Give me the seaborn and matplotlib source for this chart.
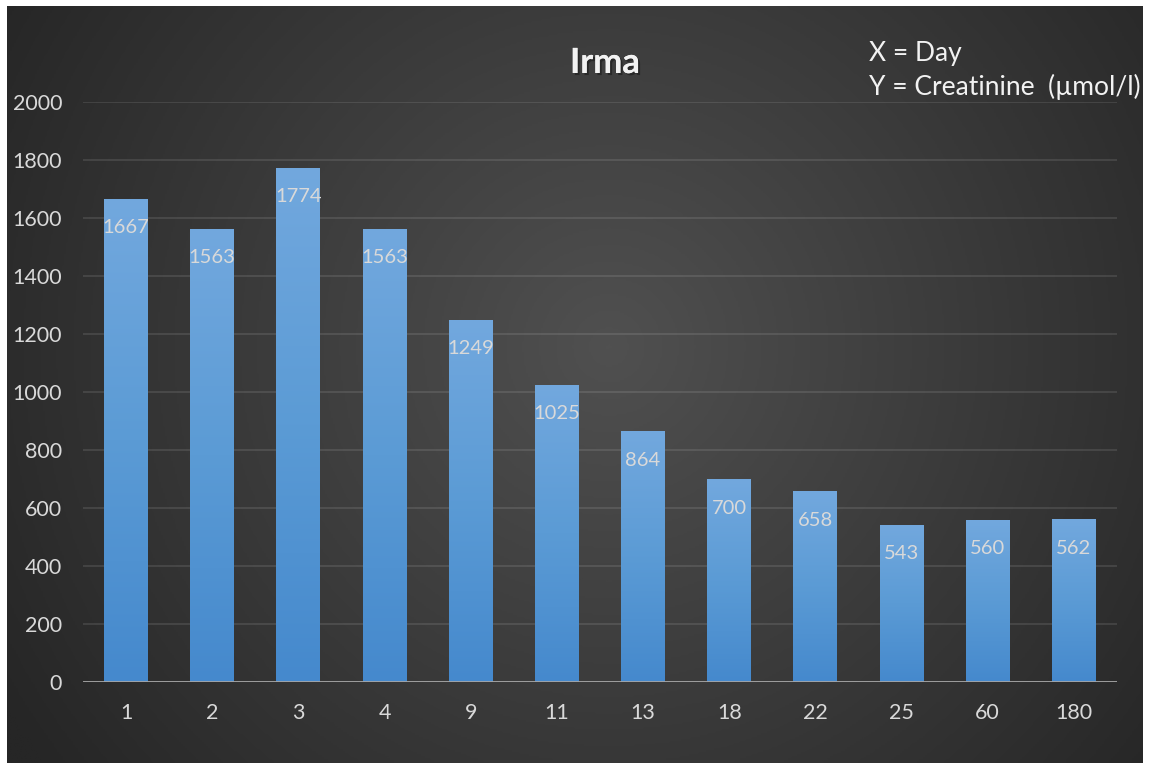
import numpy as np
import matplotlib
matplotlib.use("Agg")
import matplotlib.pyplot as plt
import matplotlib.patheffects as pe
import seaborn as sns
import pandas as pd
from matplotlib.colors import LinearSegmentedColormap

days = ["1", "2", "3", "4", "9", "11", "13", "18", "22", "25", "60", "180"]
creatinine = [1667, 1563, 1774, 1563, 1249, 1025, 864, 700, 658, 543, 560, 562]
y_ticks = [0, 200, 400, 600, 800, 1000, 1200, 1400, 1600, 1800, 2000]
title_text = "Irma"
note_text = "X = Day\nY = Creatinine  (µmol/l)"

sns.set_style("dark")
plt.rcParams["font.family"] = ["Lato", "DejaVu Sans"]

W, H = 1149, 769
fig = plt.figure(figsize=(W / 100, H / 100), dpi=100, facecolor="white")

# radial gradient background panel
bg = fig.add_axes([7 / W, 6 / H, 1136 / W, 757 / H], zorder=0)
yy, xx = np.mgrid[0:1:400j, 0:1:600j]
cx, cy = 0.53, 0.45
r = np.sqrt(((xx - cx)) ** 2 + ((yy - cy) * 0.67) ** 2)
r = np.clip(r / 0.62, 0, 1)
bg_cmap = LinearSegmentedColormap.from_list("bg", ["#505050", "#3b3b3b", "#262626"])
bg.imshow(r, cmap=bg_cmap, aspect="auto", extent=(0, 1, 0, 1), interpolation="bilinear")
bg.set_axis_off()

ax = fig.add_axes([83 / W, 1 - 682 / H, 1034 / W, 580 / H], zorder=1)
ax.patch.set_alpha(0)

df = pd.DataFrame({"day": days, "creatinine": creatinine})
sns.barplot(data=df, x="day", y="creatinine", order=days, color="#5b9bd5",
            saturation=1, width=0.51, ax=ax, errorbar=None, linewidth=0,
            edgecolor="none")

bar_cmap = LinearSegmentedColormap.from_list("bar", ["#4589cd", "#5b9bd5", "#72a8de"])
grad = np.linspace(0, 1, 256).reshape(-1, 1)
for p in ax.patches:
    x0, y0 = p.get_x(), p.get_y()
    w, h = p.get_width(), p.get_height()
    p.set_edgecolor("none")
    p.set_linewidth(0)
    im = ax.imshow(grad, cmap=bar_cmap, origin="lower", aspect="auto",
                   extent=(x0, x0 + w, y0, y0 + h), zorder=2)
    im.set_clip_path(p)

ax.set_xlim(-0.5, len(days) - 0.5)
ax.set_ylim(0, 2000)
ax.set_yticks(y_ticks)
ax.set_xlabel("")
ax.set_ylabel("")
for s in ax.spines.values():
    s.set_visible(False)
ax.yaxis.grid(True, color="#ffffff", alpha=0.12, lw=1.2)
ax.xaxis.grid(False)
ax.set_axisbelow(True)
ax.axhline(0, color="#a6a6a6", lw=2, zorder=3)
ax.tick_params(axis="both", length=0, labelcolor="#d9d9d9", labelsize=15.5)
ax.tick_params(axis="x", pad=15)
ax.tick_params(axis="y", pad=15)

for i, v in enumerate(creatinine):
    ax.annotate(str(v), (i, v), xytext=(0, -21), textcoords="offset points",
                ha="center", va="center", color="#d9d9d9", fontsize=14.5, zorder=4)

fig.text(605 / W, 1 - 63 / H, title_text, ha="center", va="center",
         fontsize=25, fontweight="bold", color="#f2f2f2", zorder=5,
         path_effects=[pe.withSimplePatchShadow(offset=(1.5, -1.5), shadow_rgbFace="#1a1a1a", alpha=0.6),
                       pe.Normal()])
fig.text(869 / W, 1 - 41 / H, note_text, ha="left", va="top",
         fontsize=19, linespacing=1.36, color="#f2f2f2", zorder=5)

fig.savefig("out.png", dpi=100, facecolor="white")
